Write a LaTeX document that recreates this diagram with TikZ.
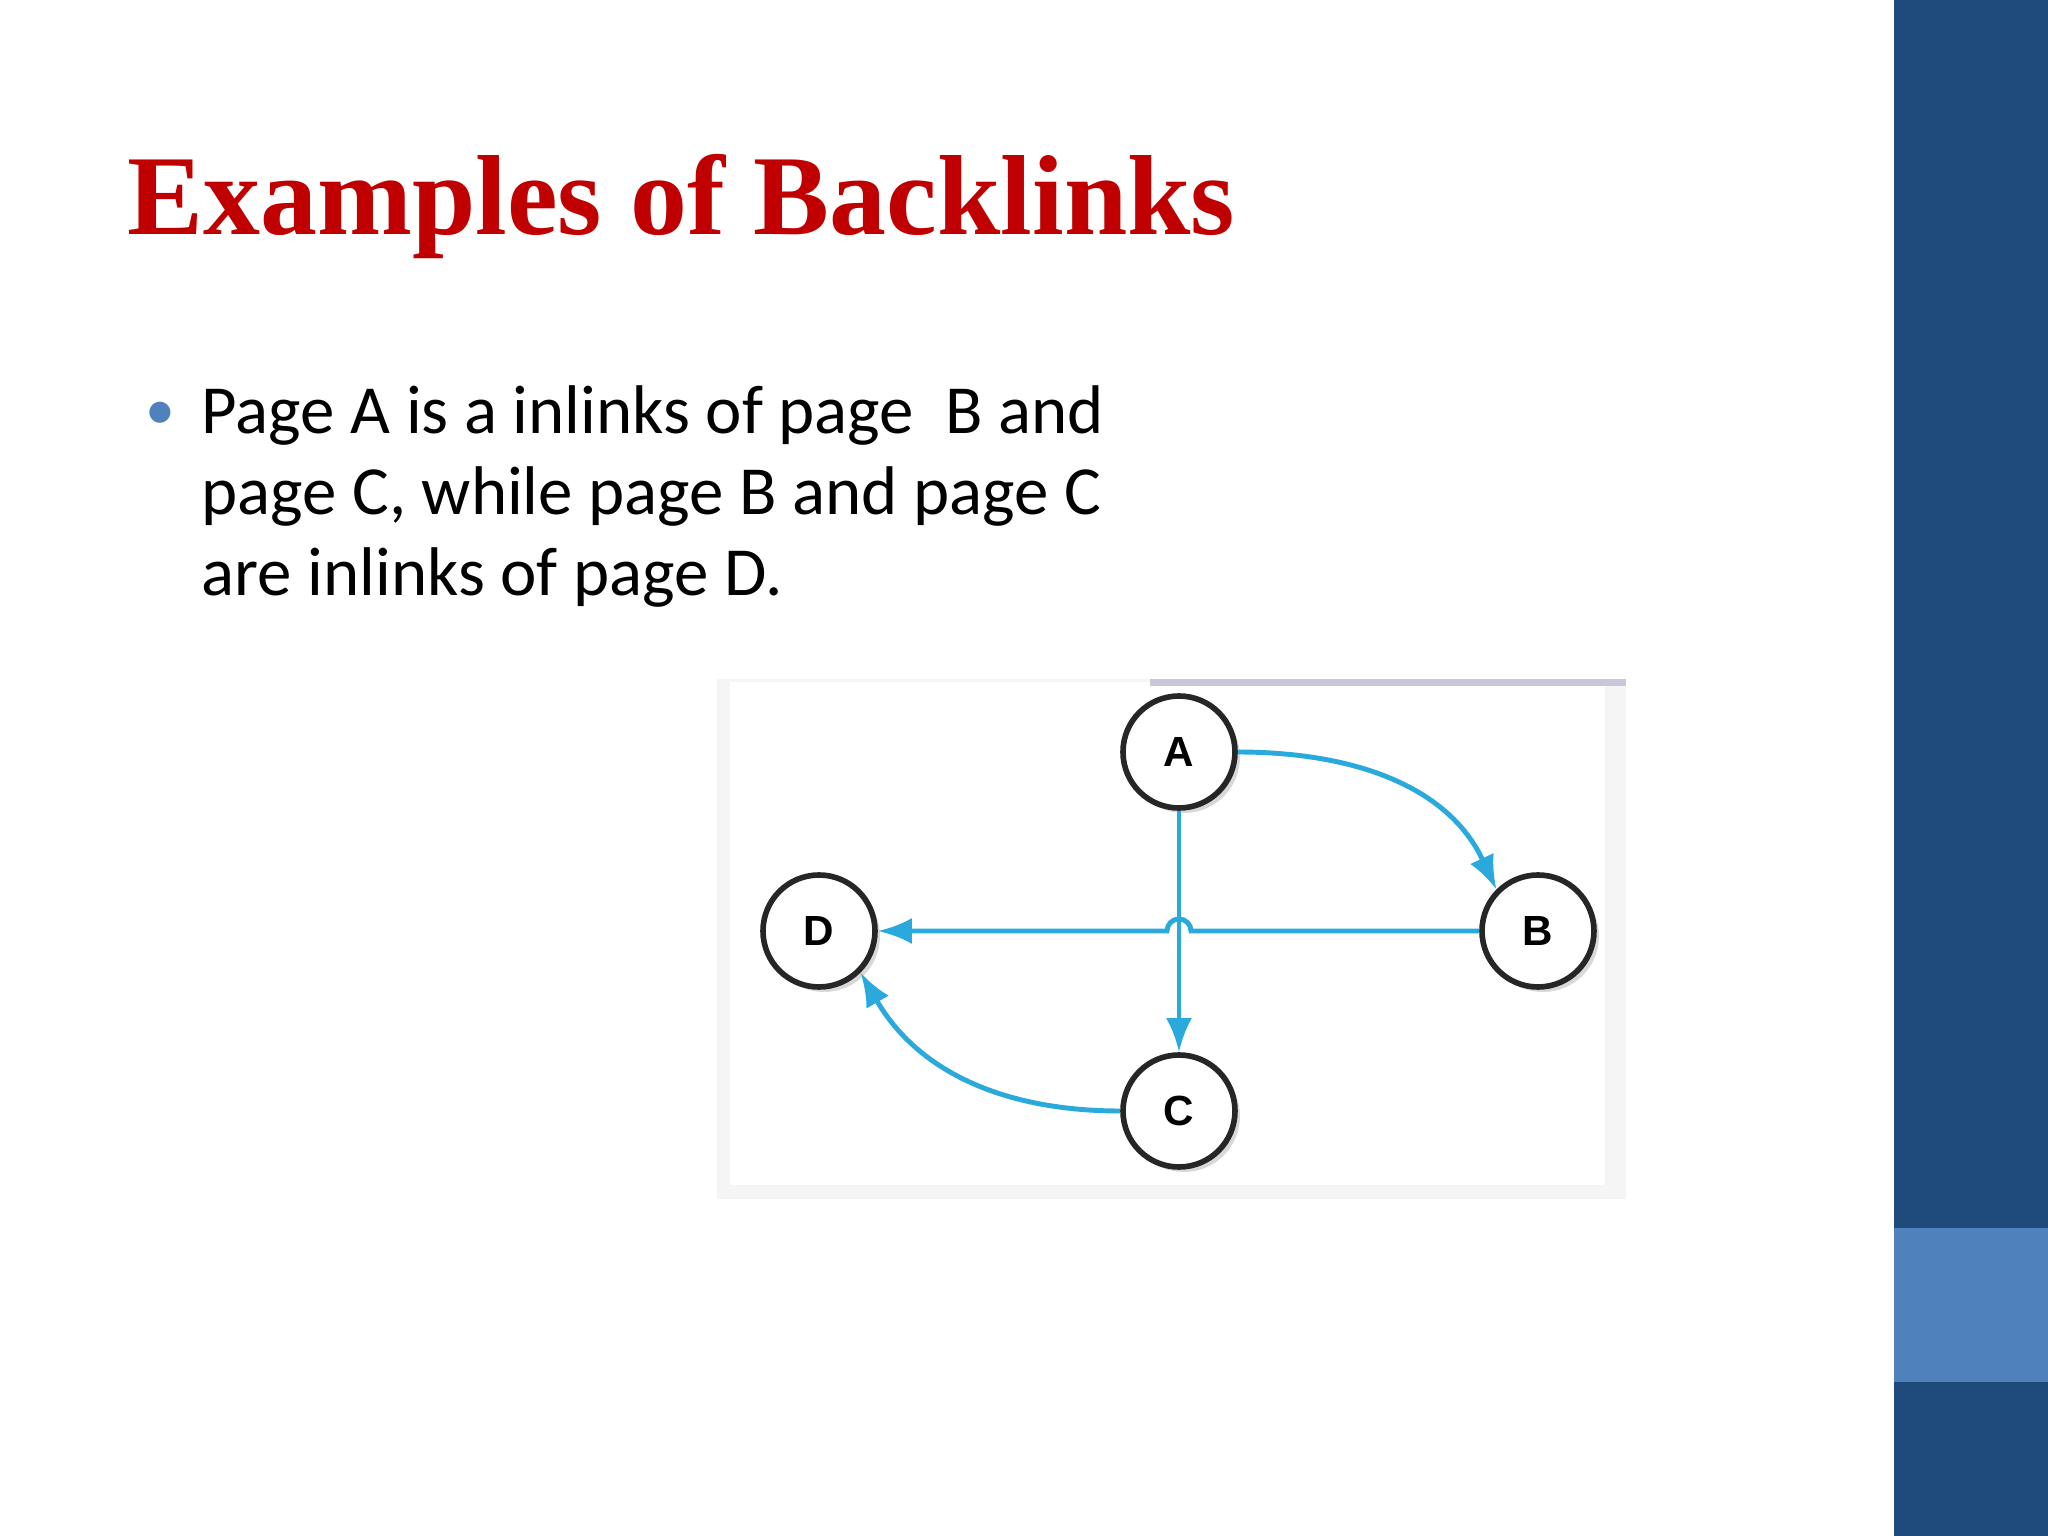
\documentclass[tikz,border=0pt]{standalone}
\usepackage{fontspec}
\setmainfont{Carlito}
\newfontfamily\titlefont{Liberation Serif}
\newfontfamily\nodefont{Liberation Sans}
\usetikzlibrary{arrows.meta,shadows}
\definecolor{darkbar}{HTML}{1F4A7C}
\definecolor{lightbar}{HTML}{4F81BD}
\definecolor{titlered}{HTML}{C00000}
\definecolor{linkblue}{HTML}{2AA9DC}
\tikzset{
  pagenode/.style={circle,draw=black!85,line width=1.6pt,fill=white,minimum size=1.12cm,inner sep=0pt,
    font=\nodefont\bfseries\fontsize{12}{12}\selectfont,
    drop shadow={shadow xshift=0.05cm,shadow yshift=-0.05cm,fill=black!30}},
  link/.style={draw=linkblue,line width=1.4pt,-{Latex[length=0.34cm,width=0.26cm]}}
}
\begin{document}
\begin{tikzpicture}
\useasboundingbox (0,0) rectangle (20.48,-15.36);
\fill[white] (0,0) rectangle (20.48,-15.36);
\fill[darkbar] (18.94,0) rectangle (20.48,-15.36);
\fill[lightbar] (18.94,-12.28) rectangle (20.48,-13.82);
\node[anchor=base west,inner sep=0pt,text=titlered,font=\titlefont\bfseries\fontsize{32.4}{36}\selectfont] (title) at (1.27,-2.35) {Examples of Backlinks};
\node[anchor=base,inner sep=0pt,text=lightbar,font=\fontsize{17}{20}\selectfont] (bul) at (1.60,-4.30) {•};
\node[anchor=base west,inner sep=0pt,font=\fontsize{19.6}{23}\selectfont] (l1) at (2.01,-4.34) {Page A is a inlinks of page\ \ B and};
\node[anchor=base west,inner sep=0pt,font=\fontsize{19.6}{23}\selectfont] (l2) at (2.01,-5.15) {page C, while page B and page C};
\node[anchor=base west,inner sep=0pt,font=\fontsize{19.6}{23}\selectfont] (l3) at (2.01,-5.96) {are inlinks of page D.};
% picture frame
\fill[black!4] (7.17,-6.79) rectangle (16.26,-11.99);
\fill[white] (7.30,-6.82) rectangle (16.05,-11.85);
\fill[blue!30!black!22] (11.5,-6.79) rectangle (16.26,-6.86);
\node[pagenode] (A) at (11.79,-7.52) {A};
\node[pagenode] (B) at (15.38,-9.31) {B};
\node[pagenode] (D) at (8.19,-9.31) {D};
\node[pagenode] (C) at (11.79,-11.11) {C};
\draw[link] (A.east) to[out=0,in=115] (B.north west);
\draw[link] (A.south) -- (C.north);
\draw[link] (B.west) -- (11.91,-9.31) arc (0:180:0.12) -- (D.east);
\draw[link] (C.west) to[out=180,in=-60] (D.south east);
\end{tikzpicture}
\end{document}
